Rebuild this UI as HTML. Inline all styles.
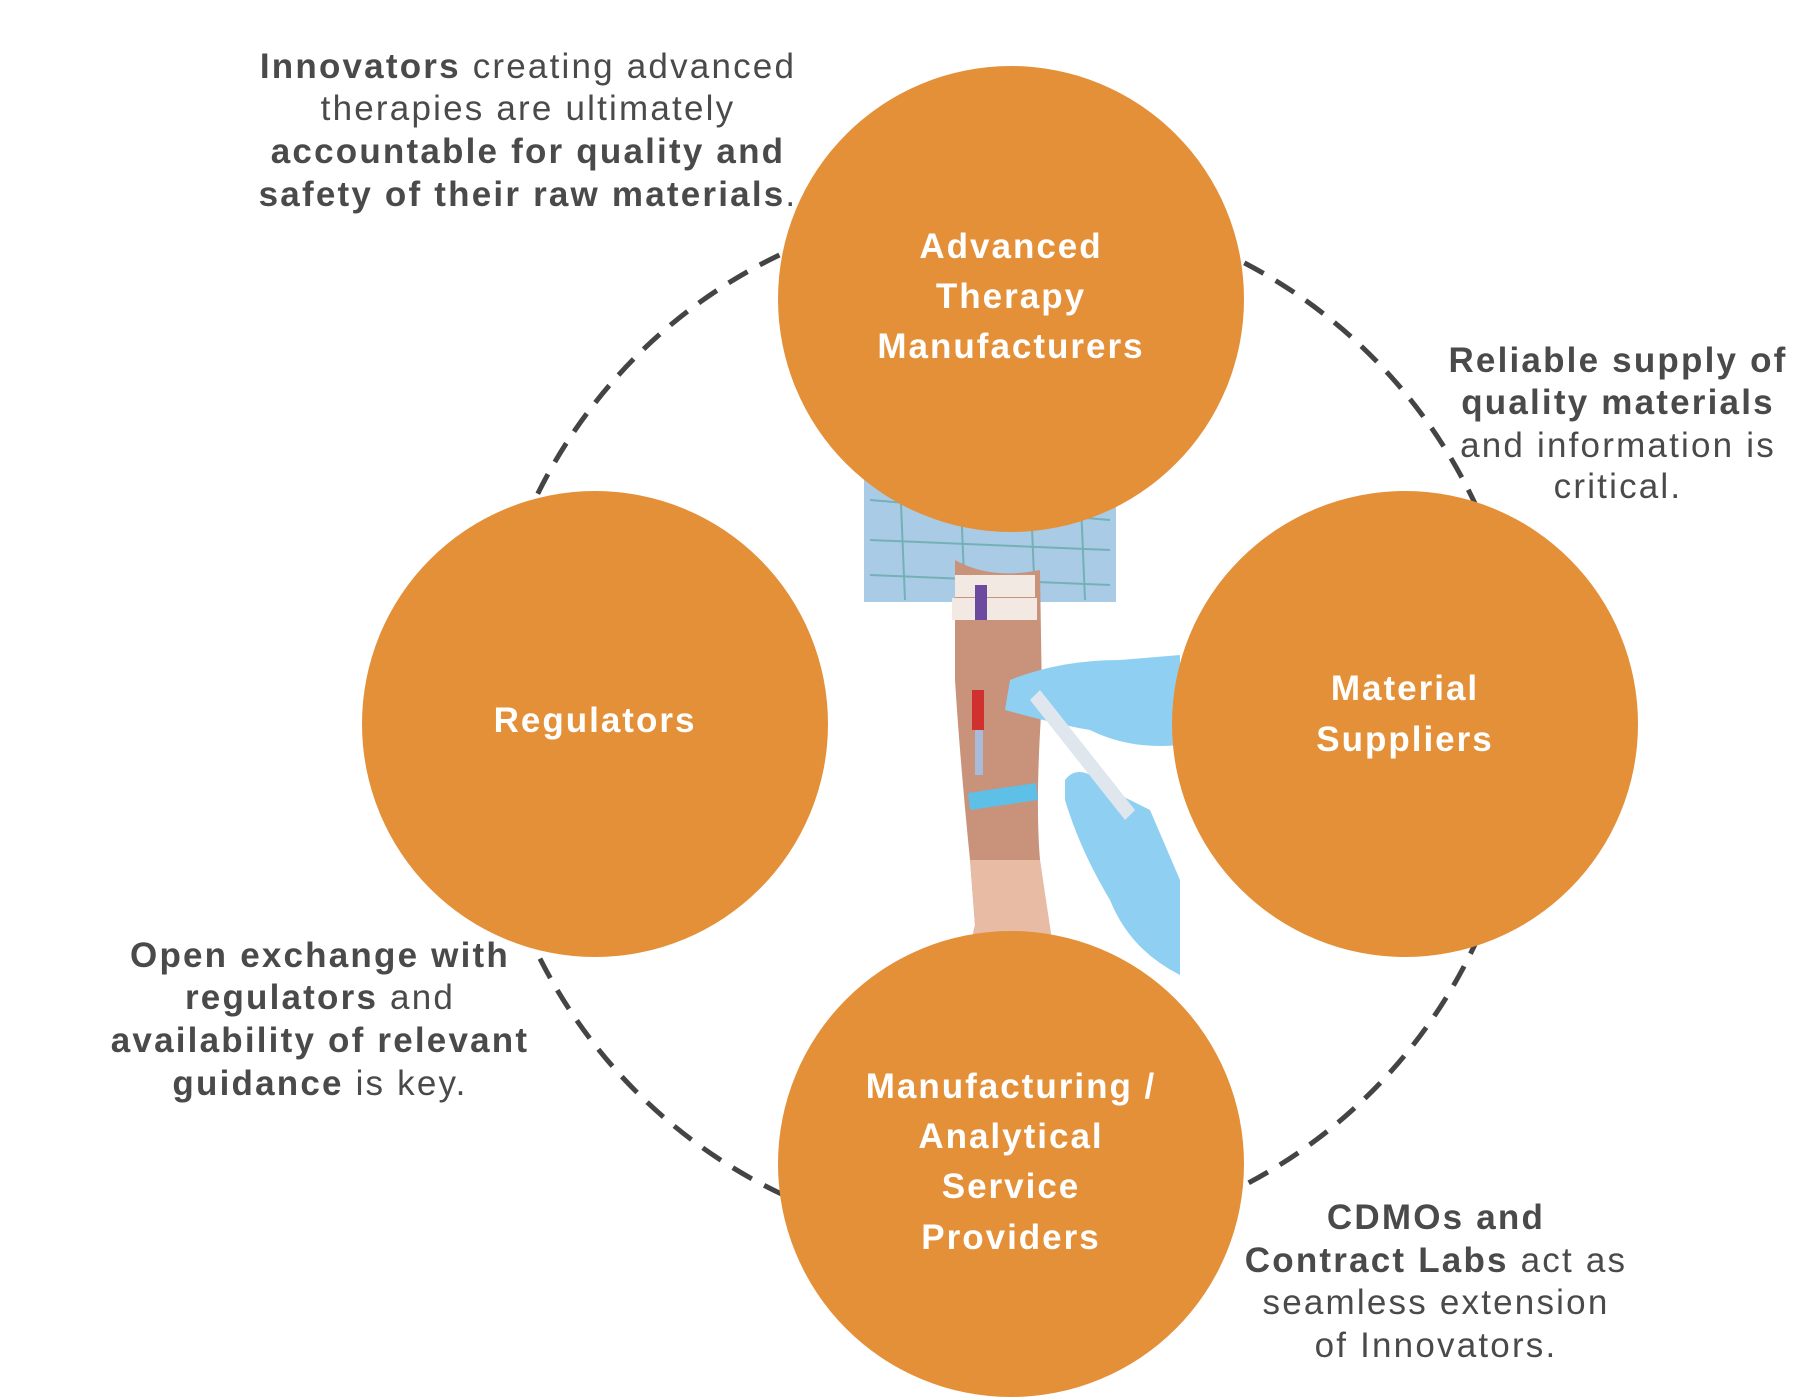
<!DOCTYPE html>
<html><head><meta charset="utf-8"><style>
html,body{margin:0;padding:0;background:#fff;}
svg{display:block;}
text{font-family:"Liberation Sans",sans-serif;}
.a{font-size:35px;fill:#4a4a4a;text-anchor:middle;letter-spacing:2.2px;}
.b{font-weight:bold;}
.c{font-size:35px;fill:#fff;font-weight:bold;text-anchor:middle;letter-spacing:2px;}
</style></head><body>
<svg width="1809" height="1399" viewBox="0 0 1809 1399" xmlns="http://www.w3.org/2000/svg">
<circle cx="1004" cy="724" r="520" fill="none" stroke="#444" stroke-width="5" stroke-dasharray="22 14"/>
<g>
<rect x="864" y="478" width="252" height="124" fill="#a9cbe6"/>
<g stroke="#5fa7a3" stroke-width="2" opacity="0.7">
<line x1="870" y1="500" x2="1110" y2="520"/><line x1="870" y1="540" x2="1110" y2="550"/><line x1="870" y1="575" x2="1110" y2="585"/>
<line x1="900" y1="480" x2="905" y2="600"/><line x1="960" y1="480" x2="965" y2="600"/><line x1="1030" y1="480" x2="1035" y2="600"/><line x1="1080" y1="480" x2="1085" y2="600"/>
</g>
<path d="M955 560 Q990 580 1040 570 L1042 700 Q1035 800 1040 860 L1050 940 Q1050 965 1030 960 L985 955 Q970 945 975 925 L970 860 Q960 760 955 680 Z" fill="#c9927a"/>
<path d="M970 860 L1040 860 L1052 940 Q1050 965 1030 962 L985 957 Q968 945 975 925 Z" fill="#e7bba4"/>
<rect x="955" y="575" width="80" height="22" fill="#f1e9e2"/>
<rect x="952" y="598" width="85" height="22" fill="#f1e9e2"/>
<rect x="975" y="585" width="12" height="35" fill="#6c4aa0"/>
<rect x="972" y="690" width="12" height="40" fill="#d0302e"/>
<rect x="975" y="730" width="8" height="45" fill="#a9bbd8"/>
<path d="M968 793 L1036 783 L1038 800 L970 810 Z" fill="#5ec0e6"/>
<path d="M1010 680 Q1060 660 1120 660 L1180 655 L1180 745 Q1130 750 1090 730 Q1060 725 1005 710 Z" fill="#8fd0f2"/>
<path d="M1065 780 Q1080 760 1110 790 L1150 810 L1180 880 L1180 975 Q1130 950 1110 900 Q1080 850 1065 800 Z" fill="#8fd0f2"/>
<path d="M1030 700 L1125 820 L1135 810 L1040 690 Z" fill="#dfe6ee"/>
</g>
<g fill="#e49038">
<circle cx="1011" cy="299" r="233"/>
<circle cx="595" cy="724" r="233"/>
<circle cx="1405" cy="724" r="233"/>
<circle cx="1011" cy="1164" r="233"/>
</g>
<text class="c" x="1011" y="258">Advanced</text>
<text class="c" x="1011" y="308">Therapy</text>
<text class="c" x="1011" y="358">Manufacturers</text>
<text class="c" x="595" y="732">Regulators</text>
<text class="c" x="1405" y="700">Material</text>
<text class="c" x="1405" y="751">Suppliers</text>
<text class="c" x="1011" y="1098">Manufacturing /</text>
<text class="c" x="1011" y="1148">Analytical</text>
<text class="c" x="1011" y="1198">Service</text>
<text class="c" x="1011" y="1249">Providers</text>

<text class="a" x="528" y="78"><tspan class="b">Innovators</tspan> creating advanced</text>
<text class="a" x="528" y="120">therapies are ultimately</text>
<text class="a b" x="528" y="163">accountable for quality and</text>
<text class="a b" x="528" y="206">safety of their raw materials<tspan font-weight="normal">.</tspan></text>

<text class="a b" x="1618" y="372">Reliable supply of</text>
<text class="a b" x="1618" y="414">quality materials</text>
<text class="a" x="1618" y="457">and information is</text>
<text class="a" x="1618" y="498">critical.</text>

<text class="a b" x="320" y="967">Open exchange with</text>
<text class="a" x="320" y="1009"><tspan class="b">regulators</tspan> and</text>
<text class="a b" x="320" y="1052">availability of relevant</text>
<text class="a" x="320" y="1095"><tspan class="b">guidance</tspan> is key.</text>

<text class="a b" x="1436" y="1229">CDMOs and</text>
<text class="a" x="1436" y="1272"><tspan class="b">Contract Labs</tspan> act as</text>
<text class="a" x="1436" y="1314">seamless extension</text>
<text class="a" x="1436" y="1357">of Innovators.</text>
</svg>
</body></html>
